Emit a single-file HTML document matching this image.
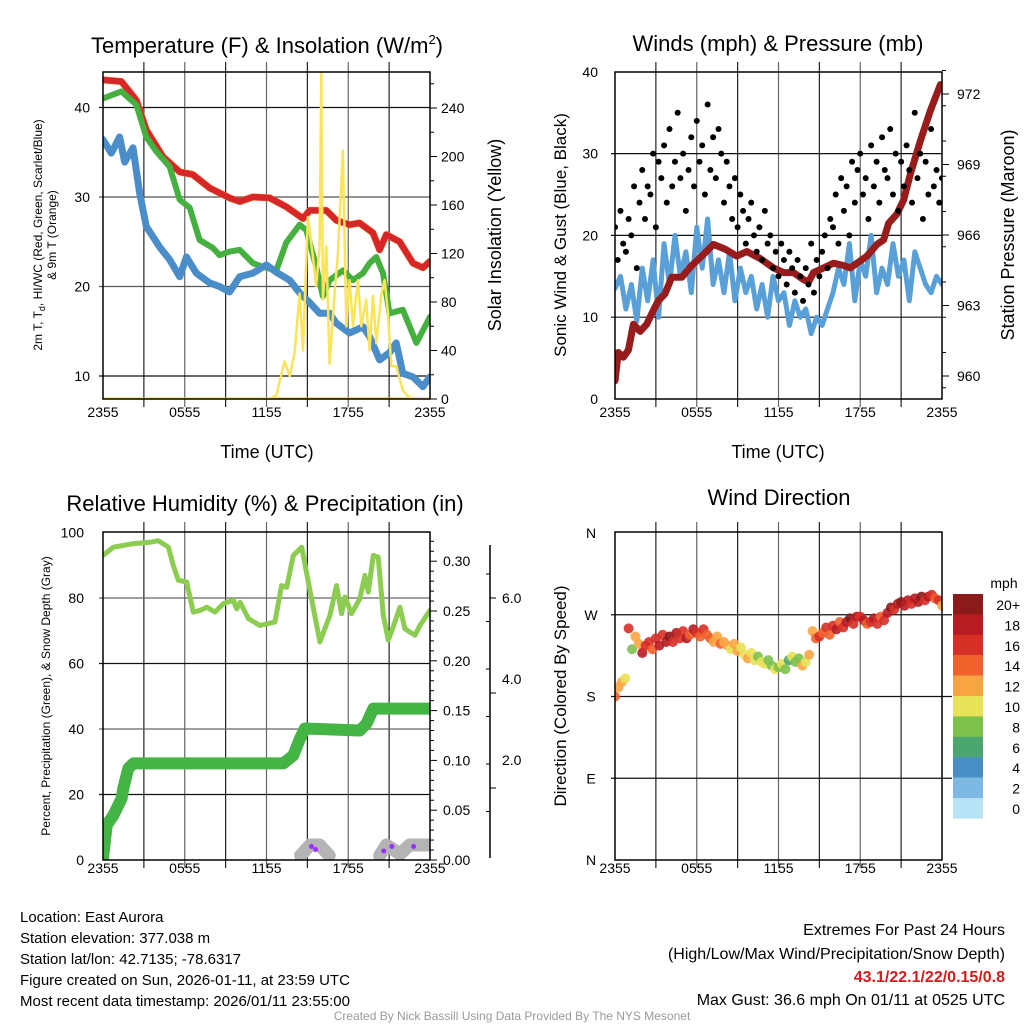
<!DOCTYPE html>
<html><head><meta charset="utf-8"><style>
html,body{margin:0;padding:0;background:#fff}
svg{display:block;font-family:"Liberation Sans",sans-serif}
</style></head><body>
<svg id="root" width="1024" height="1024" viewBox="0 0 1024 1024" xmlns="http://www.w3.org/2000/svg">
<defs>
<clipPath id="c1"><rect x="103" y="72" width="327" height="327"/></clipPath>
<clipPath id="c2"><rect x="615" y="72" width="327" height="327"/></clipPath>
<clipPath id="c3"><rect x="103" y="532" width="327" height="328"/></clipPath>
<clipPath id="c4"><rect x="615" y="532" width="327" height="328"/></clipPath>
</defs>
<g id="grids"></g>
<g id="p1" clip-path="url(#c1)"></g>
<g id="p2" clip-path="url(#c2)"></g>
<g id="p3" clip-path="url(#c3)"></g>
<g id="p4" clip-path="url(#c4)"></g>
<g id="axes"></g>

<g font-size="22" text-anchor="middle" fill="#000">
<text x="267" y="53">Temperature (F) &amp; Insolation (W/m<tspan font-size="13" dy="-9">2</tspan><tspan dy="9">)</tspan></text>
<text x="778" y="51">Winds (mph) &amp; Pressure (mb)</text>
<text x="265" y="511">Relative Humidity (%) &amp; Precipitation (in)</text>
<text x="779" y="505">Wind Direction</text>
</g>
<g font-size="18" text-anchor="middle">
<text x="267" y="458">Time (UTC)</text>
<text x="778" y="458">Time (UTC)</text>
<text transform="translate(501,235) rotate(-90)">Solar Insolation (Yellow)</text>
<text transform="translate(1014,235) rotate(-90)">Station Pressure (Maroon)</text>
</g>
<g font-size="17" text-anchor="middle">
<text transform="translate(566,235) rotate(-90)">Sonic Wind &amp; Gust (Blue, Black)</text>
<text transform="translate(566,696) rotate(-90)">Direction (Colored By Speed)</text>
</g>
<g font-size="12" text-anchor="middle">
<text transform="translate(42,235) rotate(-90)">2m T, T<tspan font-size="9" dy="3">d</tspan><tspan dy="-3">, HI/WC (Red, Green, Scarlet/Blue)</tspan></text>
<text transform="translate(56,235) rotate(-90)">&amp; 9m T (Orange)</text>
<text transform="translate(50,696) rotate(-90)">Percent, Precipitation (Green), &amp; Snow Depth (Gray)</text>
</g>

<g id="cbar"></g>
<text x="1004" y="588" font-size="14" text-anchor="middle">mph</text>

<g font-size="15" fill="#000">
<text x="20" y="922">Location: East Aurora</text>
<text x="20" y="943">Station elevation: 377.038 m</text>
<text x="20" y="964">Station lat/lon: 42.7135; -78.6317</text>
<text x="20" y="985">Figure created on Sun, 2026-01-11, at 23:59 UTC</text>
<text x="20" y="1006">Most recent data timestamp: 2026/01/11 23:55:00</text>
</g>
<g font-size="16" text-anchor="end">
<text x="1005" y="935">Extremes For Past 24 Hours</text>
<text x="1005" y="959">(High/Low/Max Wind/Precipitation/Snow Depth)</text>
<text x="1005" y="982" fill="#d01c1c" font-weight="bold">43.1/22.1/22/0.15/0.8</text>
<text x="1005" y="1005">Max Gust: 36.6 mph On 01/11 at 0525 UTC</text>
</g>
<text x="512" y="1020" font-size="12" fill="#999" text-anchor="middle">Created By Nick Bassill Using Data Provided By The NYS Mesonet</text>
</svg>
<script>
// ---- Temperature panel data (hours since 2355) ----
const tempT = [0,1.35,2.45,3.18,4.4,5.63,6.6,7.83,9.29,10.03,11.0,12.23,13.45,14.68,15.17,16.39,17.12,18.1,18.83,19.81,20.3,20.79,21.77,22.75,23.48,24];
const tempV = [43.1,42.9,40.8,37.5,34.5,32.8,32.5,31.0,29.9,29.5,30.0,29.9,28.9,27.6,28.5,28.5,27.4,26.9,27.1,26.0,24.1,25.8,25.0,22.6,22.1,22.8];
const dewT = [0,1.35,2.45,3.18,3.91,4.89,5.63,6.36,7.09,8.07,8.56,9.29,10.03,11.0,11.74,12.72,13.45,14.43,14.92,15.65,16.14,16.63,17.61,18.35,19.08,19.57,20.06,20.55,21.03,22.0,23.0,24];
const dewV = [41.0,41.8,40.3,36.7,35.1,33.4,29.7,28.8,25.2,24.3,23.5,23.9,24.1,22.6,22.2,21.8,24.9,26.9,26.3,22.2,18.9,20.7,21.8,20.7,21.5,22.6,23.3,21.5,17.0,17.4,13.7,16.6];
const chillT = [0,0.61,1.22,1.59,2.2,2.69,3.18,4.16,4.89,5.63,6.12,6.85,7.83,8.56,9.29,10.03,11.0,11.99,12.72,13.7,14.43,15.17,15.9,16.63,17.12,18.1,19.08,19.57,20.3,21.03,21.52,22.0,22.75,23.48,24];
const chillV = [36.4,34.9,36.7,33.9,35.5,30.4,26.7,24.4,23.0,21.1,23.3,21.5,20.4,20.0,19.4,21.1,21.5,22.4,21.6,20.7,19.3,18.2,17.0,17.0,15.9,14.8,15.5,14.4,11.8,12.6,13.7,10.3,9.9,8.8,9.9];
const solarT = [0,12.23,12.72,13.33,13.7,14.06,14.43,14.68,15.04,15.41,15.65,15.9,16.02,16.14,16.39,16.63,17.0,17.24,17.61,17.86,18.1,18.35,18.71,18.96,19.32,19.57,19.81,20.06,20.42,20.67,20.91,21.16,21.52,22.01,22.5,24];
const solarV = [0,0,3,31,19,38,87,40,150,117,93,126,269,82,126,29,87,120,205,60,98,60,98,60,82,40,85,46,85,98,71,27,27,7,1,0];
// ---- Wind panel data ----
const presT = [0,0.24,0.61,0.98,1.35,1.84,2.33,2.82,3.18,3.67,4.16,4.9,5.63,6.37,7.22,8.08,8.94,9.67,10.65,11.63,12.37,13.1,13.84,14.2,14.57,15.31,16.04,16.78,17.27,18.0,18.49,19.23,19.72,20.08,20.7,21.19,21.68,22.41,23.15,23.88];
const presV = [959.8,961.0,960.8,961.1,962.2,961.9,962.2,962.8,963.2,963.5,964.2,964.2,964.7,965.1,965.6,965.4,965.1,965.3,965.0,964.6,964.4,964.4,964.1,964.0,964.4,964.6,964.8,964.7,964.6,964.9,965.1,965.6,965.8,966.5,966.9,967.5,968.6,970.0,971.3,972.4];
const windV = [13.5,15,11,14,9.5,16,12,17,10,19,14,20,15,18,13,21,16,22,14,17,13,18,12,16,13,15,11,14,10,15,12,13,9,12,10,11,8,10,9,11,13,16,14,19,12,17,15,20,13,16,14,19,15,17,12,18,16,14,13,15,14];
const windStep = 0.4;
const gustV = [21,17,23,19,18,22,20,26,16,24,28,22,26,25,30,21,29,27,31,24,33,26,29,35,27,30,23,28,32,26,34,29,31,25,36,28,32,27,33,30,24,29,26,22,27,21,25,23,19,22,24,20,18,21,17,23,19,20,16,18,15,19,17,14,18,16,13,17,15,12,16,14,19,13,17,15,18,20,16,22,21,25,19,27,23,26,20,29,24,28,30,25,27,22,31,26,29,24,32,28,27,33,25,30,23,29,26,31,28,24,35,27,30,22,29,25,33,26,28,24,27];
const gustStep = 0.2;
// ---- Humidity panel data ----
const rhT = [0,0.76,2.23,3.45,4.06,4.8,5.16,5.53,6.14,6.63,7.12,7.61,8.22,8.83,9.57,9.81,10.06,10.67,11.52,12.62,13.11,13.48,13.97,14.58,15.07,15.92,16.65,17.14,17.51,17.76,18.24,18.85,19.22,19.47,19.84,20.2,20.57,20.94,21.3,21.79,22.16,22.9,23.26,24];
const rhV = [93,95.5,96.6,97.0,97.5,95.5,90,85.4,84.9,75.7,76.2,77.2,75.7,78.3,79.3,76.7,78.7,73.7,71.6,72.7,83.8,83.3,93,95.5,84.9,66.6,74.7,83.8,75.2,80.3,75.2,79.8,86.9,81.8,93,92.5,74.7,67.1,71.1,77.2,70.6,68.6,71.6,76.2];
const prT = [0,0.27,0.76,1.37,1.49,1.86,2.23,13.23,13.97,14.46,14.82,18.85,19.35,19.84,24];
const prV = [0.002,0.035,0.045,0.062,0.072,0.092,0.097,0.097,0.105,0.122,0.132,0.130,0.137,0.152,0.152];
const snowT = [14.5,15.2,15.9,16.6,null,20.3,20.8,21.8,22.5,24.2];
const snowV = [0.15,0.5,0.5,0.15,null,0.15,0.5,0.2,0.5,0.5];
const snowNewT = [15.3,15.6,20.6,21.2,22.8];
const snowNewV = [0.45,0.35,0.3,0.45,0.45];
// ---- Direction panel data ----
const dirV = [180,190,196,200,255,232,246,238,228,236,240,232,244,236,248,240,246,240,250,244,252,244,248,254,250,246,254,248,244,240,246,238,240,236,232,238,230,234,226,222,228,220,224,218,216,220,214,210,212,216,210,220,224,218,222,214,218,226,252,244,246,250,256,248,258,254,262,256,262,266,260,268,268,264,260,262,266,260,268,264,272,278,276,282,284,280,286,282,288,284,290,286,290,292,288,286,280];
const spdV = [14,13,12,11,16,9,12,13,18,16,17,15,17,19,16,18,20,17,18,16,17,19,15,18,16,14,17,15,14,12,13,15,13,12,11,12,12,10,11,12,10,11,9,10,10,9,8,10,9,10,8,7,10,9,8,12,10,12,12,14,16,14,17,15,16,18,14,17,18,20,17,19,16,18,15,17,18,16,14,17,19,20,17,18,20,18,19,16,19,18,20,17,18,16,14,17,12];
const dirStep = 0.25;
const cbLabels = ["20+","18","16","14","12","10","8","6","4","2","0"];
const cbColors = ["#8b1a1a","#b71c22","#d73027","#f0622b","#f9a544","#e8e25a","#7dc14c","#4aa56e","#4a8ec6","#7db9e3","#b8e3f6"];
const xTickLabels = ["2355","0555","1155","1755","2355"];

const NS="http://www.w3.org/2000/svg";
function el(tag, parent, a){const e=document.createElementNS(NS,tag);for(const k in a)e.setAttribute(k,a[k]);parent.appendChild(e);return e;}
const L={x0:103,x1:430}, R={x0:615,x1:942};
const xL=t=>L.x0+t/24*(L.x1-L.x0), xR=t=>R.x0+t/24*(R.x1-R.x0);
const yTemp=v=>399-(v-7.43)*8.95, ySol=v=>399-v*1.2125;
const yWind=v=>399-v*8.18, yPres=v=>376-(v-960)*23.5;
const yRH=v=>860-v*3.275, yPr=v=>860-v*996, ySnow=v=>860-v*30;
const yDir=v=>860-v*0.9083;
function pts(T,V,fx,fy){return T.map((t,i)=>fx(t).toFixed(1)+","+fy(V[i]).toFixed(1)).join(" ");}
function line(g,T,V,fx,fy,color,w,name){
  const e=el("polyline",g,{points:pts(T,V,fx,fy),fill:"none",stroke:color,"stroke-width":w,"stroke-linejoin":"round","stroke-linecap":"round"});
  
  
  return e;
}
const G=document.getElementById("grids"), A=document.getElementById("axes");
[[103,430,72,399,18],[615,942,72,399,18],[103,430,532,860,13],[615,942,532,860,13]].forEach((b,k)=>{
  for(let i=1;i<8;i++){const x=b[0]+i*(b[1]-b[0])/8;
    const g=el("line",G,{x1:x,x2:x,y1:b[2]-10,y2:b[3]+8,stroke:i%2?"#222":"#666","stroke-width":1.2});
    
    }
  const fr=el("rect",A,{x:b[0],y:b[2],width:b[1]-b[0],height:b[3]-b[2],fill:"none",stroke:"#000","stroke-width":1.5});
  
  
  xTickLabels.forEach((s,i)=>{
    const t=el("text",A,{x:b[0]+i*(b[1]-b[0])/4,y:b[3]+b[4],"font-size":14,"text-anchor":"middle"}); t.textContent=s;
    
    });
});
function hgrid(y,x0,x1,ext,col){const g=el("line",G,{x1:x0-4,x2:x1+ext,y1:y,y2:y,stroke:col,"stroke-width":1.2});
  
  }
function ylab(x,y,s,anchor){const t=el("text",A,{x:x,y:y+5,"font-size":14,"text-anchor":anchor}); t.textContent=s;
  
  }
function tick(x,y,len){const e=el("line",A,{x1:x,x2:x+len,y1:y,y2:y,stroke:"#000","stroke-width":1});
  
  }
[10,20,30,40].forEach((v,i)=>{hgrid(yTemp(v),103,430,0,i%3?"#555":"#111");ylab(90,yTemp(v),String(v),"end");});
for(let v=0;v<=260;v+=20){tick(430,ySol(v),v%40?4:7); if(v%40===0) ylab(441,ySol(v),String(v),"start");}
[10,20,30].forEach(v=>hgrid(yWind(v),615,942,0,"#111"));
[0,10,20,30,40].forEach(v=>ylab(598,yWind(v),String(v),"end"));
for(let v=959.5;v<=973;v+=1.5){tick(942,yPres(v),4);}
[960,963,966,969,972].forEach(v=>{tick(942,yPres(v),7);ylab(957,yPres(v),String(v),"start");});
[20,40,60,80].forEach((v,i)=>{hgrid(yRH(v),103,430,0,i%2?"#666":"#111");});
[0,20,40,60,80,100].forEach(v=>ylab(84,yRH(v),String(v),"end"));
for(let v=0;v<=0.33;v+=0.01){tick(430,yPr(v),Math.round(v*100)%5?4:7);}
[0,0.05,0.1,0.15,0.2,0.25,0.3].forEach(v=>ylab(443,yPr(v),v.toFixed(2),"start"));
const ax2=el("line",A,{x1:490,x2:490,y1:545,y2:858,stroke:"#000","stroke-width":1.5});


[598,693,788].forEach(y=>tick(490,y,6));
for(let y=574;y<858;y+=47.5) tick(490,y,-4);
[["6.0",598],["4.0",679],["2.0",760]].forEach(a=>ylab(502,a[1],a[0],"start"));
[yDir(90),yDir(180),yDir(270)].forEach(y=>hgrid(y,615,942,10,"#111"));
[["N",0],["E",90],["S",180],["W",270],["N",360]].forEach(a=>ylab(591,yDir(a[1]),a[0],"middle"));
const p1=document.getElementById("p1");
line(p1,[0,24],[0,0],xL,ySol,"#f2c200",3,"solar-baseline");
line(p1,tempT,tempV,xL,yTemp,"#f07020",7,"temp-9m-orange");
line(p1,tempT,tempV,xL,yTemp,"#d7262a",6,"temp-2m-red");
line(p1,dewT,dewV,xL,yTemp,"#45b040",6,"dewpoint-green");
line(p1,chillT,chillV,xL,yTemp,"#4a8dc8",7,"windchill-blue");
line(p1,solarT,solarV,xL,ySol,"#fbe35a",2.5,"solar-yellow");
const p2=document.getElementById("p2");
line(p2,windV.map((v,i)=>i*windStep),windV,xR,yWind,"#5aa0d8",5,"sonic-wind-blue");
line(p2,presT,presV,xR,yPres,"#981c1c",7,"pressure-maroon");
gustV.forEach((v,i)=>{const c=el("circle",p2,{cx:xR(i*gustStep),cy:yWind(v),r:3,fill:"#000"});
  
  });
const p3=document.getElementById("p3");
line(p3,rhT,rhV,xL,yRH,"#8ccc50",5,"relative-humidity-line");
line(p3,prT,prV,xL,yPr,"#44b444",12,"precipitation-line");
let seg=[];const segs=[];snowT.forEach((t,i)=>{if(t===null){segs.push(seg);seg=[];}else seg.push(i);});segs.push(seg);
segs.forEach(s=>line(p3,s.map(i=>snowT[i]),s.map(i=>snowV[i]),xL,ySnow,"#b4b4b4",13,"snow-depth-gray"));
snowNewT.forEach((t,i)=>{const c=el("circle",p3,{cx:xL(t),cy:ySnow(snowNewV[i]),r:2.5,fill:"#9b30ff"});
  
  });
const p4=document.getElementById("p4");
dirV.forEach((v,i)=>{const s=spdV[i];const bin=Math.min(10,Math.floor(s/2));
  const c=el("circle",p4,{cx:xR(i*dirStep),cy:yDir(v),r:5,fill:cbColors[10-bin],opacity:0.9});
  
  });
const cb=document.getElementById("cbar");
cbColors.forEach((c,i)=>{const r=el("rect",cb,{x:953,y:594+i*20.4,width:30,height:20.6,fill:c});
  
  
  const t=el("text",cb,{x:1020,y:610+i*20.4,"font-size":14,"text-anchor":"end"});t.textContent=cbLabels[i];
  
  });
</script>
</body></html>
